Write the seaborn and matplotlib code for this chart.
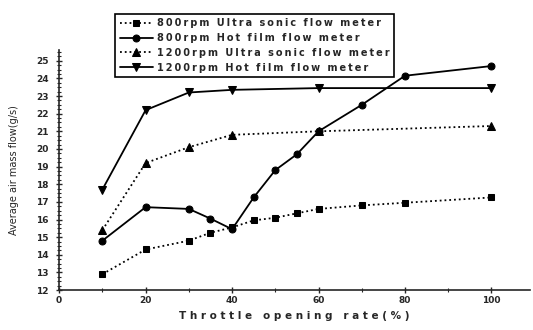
import pandas as pd
import matplotlib.pyplot as plt
import seaborn as sns
from matplotlib.ticker import MultipleLocator

# throttle opening (%) and measured flow (g/s)
x_us800 = [10, 20, 30, 35, 40, 45, 50, 55, 60, 70, 80, 100]
y_us800 = [12.9, 14.3, 14.8, 15.25, 15.55, 15.95, 16.1, 16.35, 16.6, 16.8, 16.95, 17.25]

x_hf800 = [10, 20, 30, 35, 40, 45, 50, 55, 60, 70, 80, 100]
y_hf800 = [14.8, 16.7, 16.6, 16.05, 15.45, 17.25, 18.8, 19.7, 21.0, 22.5, 24.15, 24.7]

x_us1200 = [10, 20, 30, 40, 60, 100]
y_us1200 = [15.4, 19.2, 20.1, 20.8, 21.0, 21.3]

x_hf1200 = [10, 20, 30, 40, 60, 100]
y_hf1200 = [17.7, 22.2, 23.2, 23.35, 23.45, 23.45]

labels = ["800rpm Ultra sonic flow meter",
          "800rpm Hot film flow meter",
          "1200rpm Ultra sonic flow meter",
          "1200rpm Hot film flow meter"]


def spaced(s):
    # loose letter spacing like the scanned original
    return "\u2009".join(s)


sns.set_style("ticks")
plt.rcParams['font.family'] = ['DejaVu Sans']

fig = plt.figure(figsize=(5.33, 3.3), dpi=100)
ax = fig.add_axes([0.111, 0.121, 0.884, 0.727])

series = [
    (x_us800, y_us800, 's', ':', 4.5),
    (x_hf800, y_hf800, 'o', '-', 5),
    (x_us1200, y_us1200, '^', ':', 5.5),
    (x_hf1200, y_hf1200, 'v', '-', 5.5),
]
for (xs, ys, m, ls, ms), lab in zip(series, labels):
    sns.lineplot(x=xs, y=ys, ax=ax, color='black', marker=m, linestyle=ls,
                 markersize=ms, linewidth=1.3, markeredgecolor='black',
                 label=spaced(lab))

ax.set_xlim(0, 109)
ax.set_ylim(12, 25.6)
ax.xaxis.set_major_locator(MultipleLocator(20))
ax.xaxis.set_minor_locator(MultipleLocator(10))
ax.yaxis.set_major_locator(MultipleLocator(1))
ax.yaxis.set_minor_locator(MultipleLocator(0.25))
ax.tick_params(which='major', direction='inout', length=5, width=1,
               labelsize=6.5, pad=2)
ax.tick_params(axis='y', which='major', pad=5)
ax.tick_params(which='minor', direction='inout', length=3, width=0.8)
for t in ax.get_xticklabels() + ax.get_yticklabels():
    t.set_fontweight('bold')
sns.despine(ax=ax)
ax.spines['left'].set_linewidth(1.2)
ax.spines['bottom'].set_linewidth(1.2)

ax.set_xlabel("T h r o t t l e   o p e n i n g   r a t e ( % )",
              fontsize=7.5, fontweight='bold', labelpad=4)
ax.set_ylabel("Average air mass flow(g/s)", fontsize=7, labelpad=12)

leg = ax.legend(loc='upper left', bbox_to_anchor=(0.207, 0.973),
                bbox_transform=fig.transFigure, fontsize=7,
                frameon=True, fancybox=False, handlelength=3.4,
                borderpad=0.45, labelspacing=0.5, handletextpad=0.4)
leg.get_frame().set_edgecolor('black')
leg.get_frame().set_linewidth(1.2)
leg.get_frame().set_alpha(1)
for t in leg.get_texts():
    t.set_fontweight('bold')

plt.savefig("out.png", dpi=100)
plt.close()
